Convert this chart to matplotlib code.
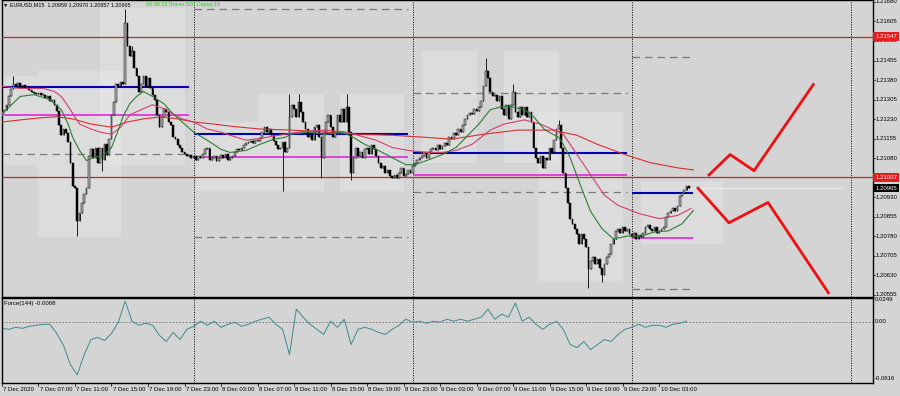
import numpy as np
import matplotlib.pyplot as plt
from matplotlib.patches import Rectangle

# EURUSD M15, one close per bar from 7 Dec 2020 03:00, in points above 1.20000
close_pts = [
    1258, 1266, 1285, 1317, 1344, 1364, 1356, 1367, 1356, 1360, 1348, 1352, 1340, 1336, 1332, 1328,
    1332, 1321, 1324, 1313, 1317, 1301, 1305, 1285, 1262, 1207, 1168, 1192, 1176, 1141, 1063, 973,
    965, 840, 868, 907, 942, 965, 1090, 1114, 1082, 1121, 1063, 1121, 1074, 1133, 1094, 1153,
    1246, 1297, 1364, 1356, 1371, 1364, 1598, 1512, 1473, 1492, 1426, 1395, 1336, 1364, 1395, 1356,
    1387, 1348, 1324, 1305, 1246, 1199, 1239, 1270, 1258, 1219, 1207, 1160, 1153, 1129, 1121, 1102,
    1098, 1090, 1094, 1082, 1090, 1074, 1090, 1082, 1098, 1114, 1121, 1074, 1082, 1090, 1071, 1082,
    1094, 1082, 1098, 1074, 1082, 1090, 1102, 1114, 1110, 1121, 1129, 1137, 1141, 1145, 1137, 1149,
    1145, 1156, 1180, 1199, 1180, 1192, 1168, 1145, 1129, 1114, 1121, 1141, 1102, 1121, 1239, 1285,
    1270, 1239, 1297, 1258, 1219, 1192, 1160, 1168, 1149, 1199, 1207, 1160, 1082, 1180, 1219, 1246,
    1199, 1160, 1180, 1246, 1219, 1270, 1219, 1278, 1180, 1024, 1082, 1121, 1090, 1102, 1082, 1114,
    1121, 1098, 1129, 1114, 1090, 1063, 1043, 1051, 1024, 1035, 1012, 1004, 1016, 1004, 1024, 1043,
    1012, 1020, 1035, 1024, 1051, 1063, 1074, 1082, 1090, 1102, 1082, 1102, 1114, 1121, 1110, 1129,
    1114, 1125, 1137, 1129, 1160, 1153, 1176, 1168, 1192, 1180, 1207, 1231, 1246, 1254, 1250, 1270,
    1262, 1278, 1301, 1356, 1414, 1387, 1336, 1317, 1324, 1301, 1317, 1270, 1246, 1285, 1231, 1285,
    1336, 1258, 1239, 1278, 1246, 1278, 1239, 1258, 1219, 1121, 1082, 1063, 1090, 1043, 1082, 1074,
    1121, 1102, 1149, 1192, 1207, 1121, 1024, 965, 907, 848, 828, 809, 789, 750, 789, 770,
    739, 653, 684, 699, 672, 692, 660, 633, 672, 699, 711, 750, 770, 801, 809, 793,
    817, 801, 809, 789, 778, 793, 770, 785, 778, 793, 817, 824, 809, 801, 817, 793,
    801, 809, 817, 856, 868, 879, 887, 879, 895, 934, 946, 957, 973, 965,
]
open_first = 1250
hi_wicks = [(5, 1395), (54, 1653), (57, 1512), (126, 1328), (130, 1328), (151, 1328),
            (212, 1465), (224, 1364), (244, 1227)]
lo_wicks = [(33, 781), (44, 1032), (123, 953), (140, 1004), (153, 996), (257, 582), (263, 606)]

# moving averages (bar, points)
green_bars = [0, 8, 14, 21, 26, 29, 31, 34, 37, 40, 45, 48, 51, 53, 56, 59, 62, 66, 71, 75, 80, 84, 90,
              96, 100, 107, 113, 119, 124, 127, 134, 142, 149, 154, 159, 165, 171, 177, 181, 187, 193,
              199, 209, 214, 219, 223, 229, 233, 238, 244, 246, 249, 254, 258, 263, 268, 274, 280, 286,
              292, 298, 303]
green_pts = [1250, 1317, 1324, 1305, 1266, 1211, 1160, 1110, 1071, 1082, 1094, 1121, 1188, 1239, 1289,
             1317, 1336, 1317, 1289, 1250, 1211, 1180, 1149, 1114, 1102, 1110, 1133, 1153, 1160, 1172,
             1180, 1172, 1180, 1160, 1133, 1110, 1082, 1055, 1055, 1074, 1094, 1121, 1211, 1266, 1278,
             1278, 1266, 1239, 1188, 1160, 1133, 1082, 965, 875, 809, 770, 781, 781, 797, 801, 828, 879]
pink_bars = [0, 8, 18, 23, 26, 30, 34, 39, 43, 48, 52, 56, 62, 66, 71, 75, 79, 84, 90, 96, 100, 107,
             116, 124, 133, 142, 151, 156, 164, 171, 178, 186, 193, 199, 206, 214, 220, 229, 236, 242,
             246, 252, 258, 264, 270, 279, 288, 296, 302]
pink_pts = [1356, 1348, 1348, 1336, 1317, 1266, 1211, 1192, 1180, 1172, 1199, 1246, 1270, 1285, 1270,
            1250, 1231, 1219, 1192, 1180, 1168, 1149, 1160, 1172, 1184, 1188, 1180, 1168, 1149, 1121,
            1110, 1102, 1102, 1110, 1133, 1188, 1211, 1227, 1211, 1188, 1172, 1094, 1016, 938, 899,
            868, 848, 860, 887]
red_bars = [0, 8, 17, 24, 31, 39, 48, 55, 62, 70, 77, 84, 93, 100, 113, 127, 142, 156, 171, 186, 197,
            211, 226, 241, 252, 261, 273, 284, 296, 303]
red_pts = [1219, 1227, 1235, 1239, 1231, 1211, 1199, 1219, 1231, 1239, 1231, 1219, 1211, 1203, 1192,
           1188, 1180, 1172, 1168, 1160, 1153, 1172, 1188, 1188, 1168, 1133, 1094, 1063, 1043, 1035]

# daily levels: (first bar, last bar, price)
blue_lv = [(0, 82, 1.21352), (84, 178, 1.21173), (180, 274, 1.21101), (276, 303, 1.20948)]
magenta_lv = [(0, 82, 1.21245), (84, 178, 1.21086), (180, 274, 1.21016), (276, 303, 1.20775)]
dash_lv = [(0, 80, 1.21095), (84, 178, 1.21653), (84, 178, 1.20779), (180, 274, 1.21331),
           (180, 274, 1.20950), (276, 303, 1.21467), (276, 303, 1.20577)]
red_lv = [1.21547, 1.21007]

# light session boxes: (bar0, bar1, low, high)
boxes = [(-1, 16, 1.21055, 1.21395), (16, 52, 1.20778, 1.21414), (43, 80, 1.21055, 1.21657),
         (85, 112, 1.20954, 1.21219), (112, 141, 1.20954, 1.21328), (148, 176, 1.20954, 1.21328),
         (184, 208, 1.21063, 1.21492), (220, 244, 1.21063, 1.21492), (235, 272, 1.20610, 1.21258),
         (280, 316, 1.20750, 1.20993)]

# projected zigzags
up_bars, up_prices = [309.4, 319.1, 329.6, 355.9], [1.21012, 1.21094, 1.21032, 1.21367]
dn_bars, dn_prices = [304.6, 318.6, 335.7, 362.5], [1.20969, 1.20832, 1.20910, 1.20559]

# Force(144), every third bar, in 1e-3
force_vals = [-6.9, -8.0, -5.8, -6.9, -4.7, -3.6, -2.5, -2.5, -12.4, -25.6, -46.4, -57.4, -35.5, -19.0,
              -16.8, -20.1, -12.4, -0.3, 22.7, 0.8, -3.6, -1.4, -3.6, -14.6, -21.2, -11.3, -19.0, -8.0,
              -4.7, 0.8, -3.6, 0.8, -5.8, -2.5, -0.3, -4.7, -2.5, 0.8, 3.0, 5.2, -2.5, -8.0, -35.5, 13.9,
              5.2, -2.5, -8.0, -13.5, 0.8, -5.8, 3.0, -24.5, -8.0, -5.8, -8.0, -11.3, -13.5, -8.0, -3.6,
              3.0, -0.3, 0.8, -1.4, 0.8, -0.3, 3.0, 0.8, 3.0, 0.8, 3.0, 5.2, 13.9, 3.0, 8.5, 5.2, 20.5,
              0.8, 5.2, -2.5, -8.0, -2.5, 0.8, -8.0, -24.5, -27.8, -21.2, -30.0, -24.5, -19.0, -21.2,
              -13.5, -8.0, -5.8, -2.5, -5.8, -3.6, -3.6, -5.8, -2.5, -1.4, 0.8]

time_labels = ["7 Dec 2020", "7 Dec 07:00", "7 Dec 11:00", "7 Dec 15:00", "7 Dec 19:00", "7 Dec 23:00",
               "8 Dec 03:00", "8 Dec 07:00", "8 Dec 11:00", "8 Dec 15:00", "8 Dec 19:00", "8 Dec 23:00",
               "9 Dec 03:00", "9 Dec 07:00", "9 Dec 11:00", "9 Dec 15:00", "9 Dec 19:00", "9 Dec 23:00",
               "10 Dec 03:00"]
day_starts = [84, 180, 276, 372]

bg = '#d4d4d4'
fz = 4.3
plt.rcParams['font.family'] = ['Liberation Sans', 'DejaVu Sans']

fig = plt.figure(figsize=(9, 3.96), dpi=100, facecolor=bg)
ax = fig.add_axes([1.5 / 900, 99 / 396, 871 / 900, 297 / 396])
axf = fig.add_axes([1.5 / 900, 13 / 396, 871 / 900, 85 / 396])
xmax = 381.5
for a in (ax, axf):
    a.set_facecolor(bg)
    a.set_xlim(-0.2, xmax)
    a.set_xticks([])
    a.set_yticks([])
    for s in a.spines.values():
        s.set_color('black')
        s.set_linewidth(1.0)
    for d in day_starts:
        a.axvline(d, color='black', lw=0.7, ls=(0, (1, 1.5)), zorder=2)
ax.set_ylim(1.205472, 1.216873)
axf.set_ylim(-0.0662, 0.0260)

to_p = lambda v: 1.2 + np.asarray(v, dtype=float) / 1e5

# boxes
for b0, b1, lo, hi in boxes:
    ax.add_patch(Rectangle((b0, lo), b1 - b0, hi - lo, fc='white', ec='none', alpha=0.2, zorder=1))

# horizontal levels
for p in red_lv:
    ax.axhline(p, color='#d42020', lw=0.9, zorder=3)
for b0, b1, p in dash_lv:
    ax.hlines(p, b0, b1, color='#7a7a7a', lw=0.9, linestyles=(0, (6, 4)), zorder=3)
for b0, b1, p in magenta_lv:
    ax.hlines(p, b0, b1, color='#e040e0', lw=1.4, zorder=3)
for b0, b1, p in blue_lv:
    ax.hlines(p, b0, b1, color='#0000b0', lw=1.5, zorder=3)
ax.hlines(1.20965, 303, 368, color='#ebebeb', lw=1.0, zorder=3)

# candles
closes = to_p(close_pts)
opens = np.r_[to_p(open_first), closes[:-1]]
bars = np.arange(len(closes))
highs = np.maximum(opens, closes)
lows = np.minimum(opens, closes)
for b, p in hi_wicks:
    highs[b] = to_p(p)
for b, p in lo_wicks:
    lows[b] = to_p(p)
ax.vlines(bars, lows, highs, color='black', lw=0.6, zorder=4)
body_lo = np.minimum(opens, closes)
body_h = np.maximum(np.abs(closes - opens), 0.00004)
up = closes >= opens
ax.bar(bars[up], body_h[up], bottom=body_lo[up], width=0.75, color='#b4b4b4', edgecolor='black',
       linewidth=0.35, zorder=5)
ax.bar(bars[~up], body_h[~up], bottom=body_lo[~up], width=0.75, color='black', edgecolor='black',
       linewidth=0.35, zorder=5)

# moving averages
ax.plot(red_bars, to_p(red_pts), color='#d83030', lw=0.8, zorder=6)
ax.plot(pink_bars, to_p(pink_pts), color='#d0406e', lw=0.8, zorder=6)
ax.plot(green_bars, to_p(green_pts), color='#2e7d32', lw=0.8, zorder=6)

# projections
ax.plot(up_bars, up_prices, color='#ee1111', lw=2.0, zorder=6, solid_capstyle='butt')
ax.plot(dn_bars, dn_prices, color='#ee1111', lw=2.0, zorder=6, solid_capstyle='butt')

# price scale
tr = ax.get_yaxis_transform()
for p in np.arange(1.20555, 1.21681, 0.00075):
    ax.text(1.003, p, f'{p:.5f}', transform=tr, fontsize=fz, va='center', ha='left', clip_on=False)
    ax.plot([1.0, 1.003], [p, p], transform=tr, color='black', lw=0.5, clip_on=False)
for p, fc in [(1.21547, '#e51c1c'), (1.21007, '#e51c1c'), (1.20965, 'black')]:
    ax.text(1.003, p, f'{p:.5f}', transform=tr, fontsize=fz, va='center', ha='left', color='white',
            clip_on=False, zorder=10, bbox=dict(boxstyle='square,pad=0.3', fc=fc, ec='none'))

# header
ax.text(0.002, 0.985, '\u25bc EURUSD,M15  1.20959 1.20970 1.20957 1.20965', transform=ax.transAxes,
        fontsize=3.9, va='center', ha='left', zorder=10)
ax.text(144 / 871, 0.985, '06:08:13 Плечо:500 Спред:18', transform=ax.transAxes, color='#22cc22',
        fontsize=3.9, va='center', ha='left', zorder=10)

# Force panel
axf.axhline(0, color='#707070', lw=0.6, ls=(0, (2, 2)))
force_bars = np.arange(0, 3 * len(force_vals), 3)
axf.plot(force_bars, np.array(force_vals) / 1000, color='#3c8c8c', lw=0.7)
axf.text(0.003, 0.93, 'Force(144) -0.0008', transform=axf.transAxes, fontsize=fz, va='center')
trf = axf.get_yaxis_transform()
for v, t in [(0.0249, '0.0249'), (0.0, '0.00'), (-0.0616, '-0.0616')]:
    axf.text(1.003, v, t, transform=trf, fontsize=fz, va='center', ha='left', clip_on=False)

# time scale
trx = axf.get_xaxis_transform()
for k, lab in enumerate(time_labels):
    b = 16 * k
    axf.plot([b, b], [0, -0.035], transform=trx, color='black', lw=0.5, clip_on=False)
    axf.text(b + 0.6, -0.075, lab, transform=trx, fontsize=fz, va='center', ha='left', clip_on=False)

plt.savefig('out.png', dpi=100, facecolor=bg)
